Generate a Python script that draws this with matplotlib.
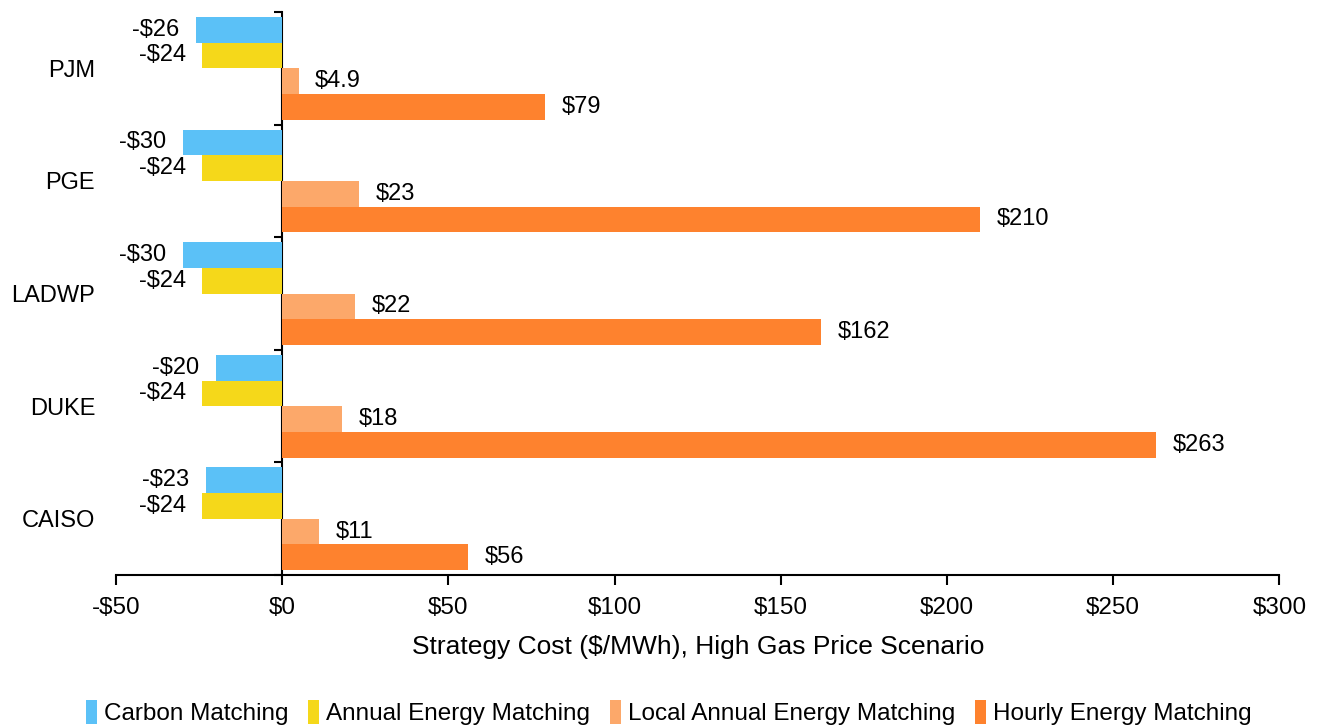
import matplotlib.pyplot as plt
import numpy as np

plt.rcParams['font.family'] = ['Liberation Sans', 'DejaVu Sans']

regions = ["PJM", "PGE", "LADWP", "DUKE", "CAISO"]
series_names = ["Carbon Matching", "Annual Energy Matching",
                "Local Annual Energy Matching", "Hourly Energy Matching"]
carbon = [-26, -30, -30, -20, -23]
annual = [-24, -24, -24, -24, -24]
local_annual = [4.9, 23, 22, 18, 11]
hourly = [79, 210, 162, 263, 56]
xticks = [-50, 0, 50, 100, 150, 200, 250, 300]

colors = ['#5BC1F7', '#F5D81A', '#FCA86A', '#FE822E']


def money(v):
    if v < 0:
        return "-${:g}".format(abs(v))
    return "${:g}".format(v)


fig = plt.figure(figsize=(13.19, 7.28), dpi=100)
ax = fig.add_axes([0.088, 0.21, 0.882, 0.7735])

y = np.arange(len(regions))
h = 0.228
offsets = [-1.5 * h, -0.5 * h, 0.5 * h, 1.5 * h]
for vals, name, col, off in zip([carbon, annual, local_annual, hourly],
                                series_names, colors, offsets):
    bars = ax.barh(y + off, vals, height=h, color=col, label=name)
    ax.bar_label(bars, labels=[money(v) for v in vals], padding=12,
                 fontsize=17)

ax.set_xlim(-50, 300)
ax.set_ylim(4.5, -0.5)
ax.set_xticks(xticks)
ax.set_xticklabels([money(v) for v in xticks], fontsize=17.5)
ax.set_yticks(y)
ax.set_yticklabels(regions, fontsize=17)
ax.tick_params(axis='y', length=0, pad=15)
ax.tick_params(axis='x', length=7, width=1.5, pad=9)
ax.set_xlabel("Strategy Cost ($/MWh), High Gas Price Scenario",
              fontsize=19, labelpad=11)

for s in ['top', 'right', 'left']:
    ax.spines[s].set_visible(False)
ax.spines['bottom'].set_linewidth(1.5)

# vertical axis line at $0 with ticks between regions
sec = ax.secondary_yaxis(50 / 350)
sec.set_yticks(np.arange(-0.5, len(regions), 1.0))
sec.set_yticklabels([])
sec.tick_params(length=6, width=1.5)
sec.spines['left'].set_linewidth(1.5)

fig.legend(loc='center', bbox_to_anchor=(0.507, 0.021), ncol=4,
           frameon=False, fontsize=17.5, handlelength=0.45, handleheight=1.1,
           handletextpad=0.3, columnspacing=0.8)

fig.savefig('out.png', dpi=100)
